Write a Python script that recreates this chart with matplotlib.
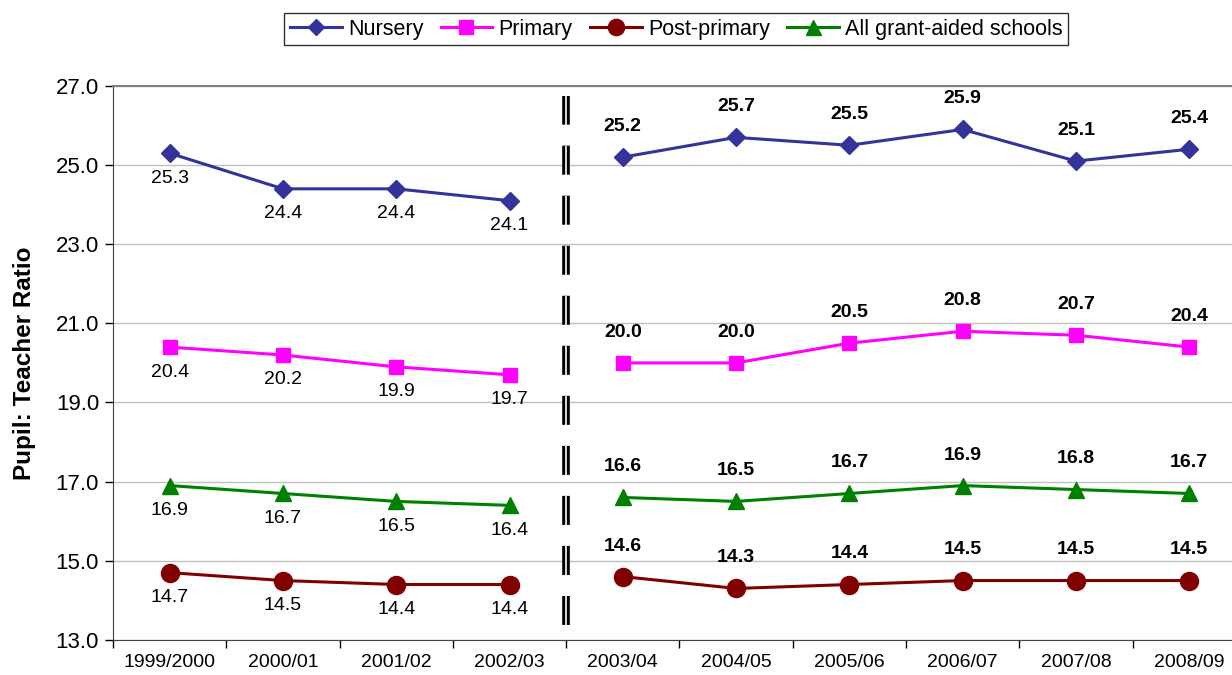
import matplotlib
matplotlib.use('Agg')
import matplotlib.pyplot as plt

plt.rcParams['font.family'] = ['Liberation Sans', 'DejaVu Sans']

years = ['1999/2000', '2000/01', '2001/02', '2002/03', '2003/04',
         '2004/05', '2005/06', '2006/07', '2007/08', '2008/09']
nursery = [25.3, 24.4, 24.4, 24.1, 25.2, 25.7, 25.5, 25.9, 25.1, 25.4]
primary = [20.4, 20.2, 19.9, 19.7, 20.0, 20.0, 20.5, 20.8, 20.7, 20.4]
post_primary = [14.7, 14.5, 14.4, 14.4, 14.6, 14.3, 14.4, 14.5, 14.5, 14.5]
all_schools = [16.9, 16.7, 16.5, 16.4, 16.6, 16.5, 16.7, 16.9, 16.8, 16.7]

series = [
    ('Nursery', nursery, '#333399', 'D', 9),
    ('Primary', primary, '#FF00FF', 's', 10.5),
    ('Post-primary', post_primary, '#800000', 'o', 13),
    ('All grant-aided schools', all_schools, '#008000', '^', 12),
]

brk = 4  # series break between 2002/03 and 2003/04
x = list(range(len(years)))

fig = plt.figure(figsize=(12.32, 6.75), dpi=100)
# plot area runs a little past the right edge, as in the original
ax = fig.add_axes([0.0917, 0.052, 0.9196, 0.8207])

handles = []
for name, vals, col, mk, ms in series:
    h, = ax.plot(x[:brk], vals[:brk], color=col, marker=mk, markersize=ms,
                 linewidth=2.2, label=name, zorder=3)
    ax.plot(x[brk:], vals[brk:], color=col, marker=mk, markersize=ms,
            linewidth=2.2, zorder=3)
    handles.append(h)
    for i, v in enumerate(vals):
        if i < brk:
            ax.annotate(f'{v:.1f}', (i, v), xytext=(0, -18), textcoords='offset points',
                        ha='center', va='center', fontsize=14)
        else:
            ax.annotate(f'{v:.1f}', (i, v), xytext=(0, 22), textcoords='offset points',
                        ha='center', va='center', fontsize=14, fontweight='bold')

# break marker
ax.plot([3.5, 3.5], [13.38, 26.75], color='black', linewidth=5.5,
        dashes=(3.8, 2.75), zorder=4)
ax.plot([3.5, 3.5], [13.38, 26.75], color='white', linewidth=1.2,
        dashes=(17.4, 12.6), zorder=5)

ax.set_xlim(-0.5, 9.5)
ax.set_ylim(13, 27)
ax.set_yticks([13, 15, 17, 19, 21, 23, 25, 27])
ax.set_yticklabels([f'{t:.1f}' for t in [13, 15, 17, 19, 21, 23, 25, 27]], fontsize=16)
ax.set_xticks(x)
ax.set_xticklabels(years, fontsize=14)
ax.set_xticks([i + 0.5 for i in range(-1, 10)], minor=True)
ax.tick_params(axis='x', which='major', length=0, pad=10)
ax.tick_params(axis='x', which='minor', length=6, width=1, direction='out')
ax.tick_params(axis='y', length=6, width=1, direction='out', pad=4)
ax.yaxis.grid(True, color='#c0c0c0', linewidth=1)
ax.set_axisbelow(True)
ax.spines['right'].set_visible(False)
ax.spines['top'].set_color('#808080')
ax.spines['top'].set_linewidth(1.5)
ax.spines['left'].set_color('#404040')
ax.spines['bottom'].set_color('#404040')
ax.set_ylabel('Pupil: Teacher Ratio', fontsize=17.5, fontweight='bold', labelpad=14)

leg = fig.legend(handles=handles, loc='center', bbox_to_anchor=(0.549, 0.957), ncol=4,
                 fontsize=15.5, frameon=True, fancybox=False, edgecolor='black',
                 handlelength=2.4, handletextpad=0.3, columnspacing=0.8,
                 borderpad=0.25, markerscale=0.9)
leg.get_frame().set_linewidth(1)

fig.savefig('out.png', dpi=100)
